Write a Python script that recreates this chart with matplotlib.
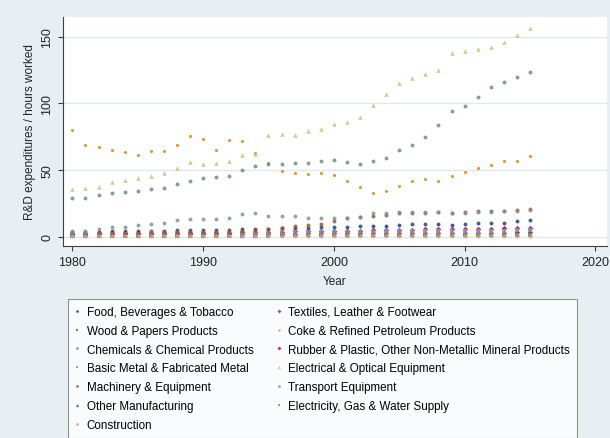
import matplotlib
matplotlib.use("Agg")
import matplotlib.pyplot as plt

plt.rcParams['font.family'] = ['Liberation Sans', 'DejaVu Sans']

years = list(range(1980, 2016))

food = [3.5, 3.6, 3.8, 4.0, 4.0, 4.2, 4.3, 4.5, 4.8, 5.0, 5.0, 5.2, 5.3, 5.6, 5.8, 6.0, 6.3, 6.5,
        6.8, 7.3, 7.3, 7.5, 7.8, 8.3, 8.3, 8.8, 9.5, 9.5, 9.5, 8.8, 9.5, 10.0, 10.0, 10.5, 11.5, 12.3]
textiles = [1.6, 1.6, 1.7, 1.7, 1.8, 1.8, 1.8, 1.9, 1.9, 2.0, 2.0, 2.0, 2.1, 2.1, 2.2, 2.2, 2.3, 2.3,
            2.4, 2.4, 2.5, 2.5, 2.6, 2.6, 2.7, 2.7, 2.8, 2.9, 2.9, 2.8, 3.0, 3.0, 3.1, 3.1, 3.2, 3.2]
wood = [1.0, 1.0, 1.0, 1.1, 1.1, 1.1, 1.1, 1.2, 1.2, 1.2, 1.2, 1.2, 1.3, 1.3, 1.3, 1.3, 1.4, 1.4,
        1.4, 1.4, 1.4, 1.5, 1.5, 1.5, 1.5, 1.5, 1.6, 1.6, 1.6, 1.5, 1.6, 1.6, 1.6, 1.7, 1.7, 1.7]
coke = [80.0, 68.8, 67.5, 65.3, 63.3, 61.3, 64.0, 64.5, 68.8, 75.3, 73.0, 65.3, 72.5, 71.8, 62.5, 55.0,
        49.0, 48.0, 46.8, 47.5, 46.0, 42.0, 37.0, 32.8, 34.3, 38.3, 41.5, 43.3, 42.0, 45.3, 48.5, 51.8,
        54.0, 56.8, 56.8, 60.3]
chemicals = [28.8, 29.3, 31.5, 32.8, 33.8, 34.5, 35.8, 36.5, 39.8, 41.8, 43.8, 45.0, 45.8, 50.3, 52.8,
             54.5, 54.8, 55.3, 55.3, 56.5, 57.3, 56.0, 54.8, 56.8, 59.3, 65.3, 69.0, 75.0, 83.8, 94.0,
             98.0, 104.5, 112.3, 116.3, 120.0, 123.3]
rubber = [2.3, 2.3, 2.4, 2.5, 2.6, 2.6, 2.7, 2.8, 2.9, 3.0, 3.0, 3.0, 3.1, 3.3, 3.4, 3.6, 3.8, 4.0,
          4.0, 4.1, 4.2, 4.3, 4.5, 4.7, 4.8, 5.0, 5.3, 5.5, 5.8, 5.5, 5.8, 6.0, 6.0, 6.5, 6.8, 6.8]
basic_metal = [2.0, 2.0, 2.1, 2.2, 2.3, 2.3, 2.4, 2.5, 2.6, 2.7, 2.7, 2.7, 2.8, 2.9, 3.0, 3.1, 3.2, 3.3,
               3.3, 3.4, 3.5, 3.6, 3.7, 3.8, 3.9, 4.0, 4.1, 4.2, 4.3, 4.2, 4.4, 4.5, 4.5, 4.6, 4.7, 4.8]
electrical = [35.8, 36.5, 37.5, 41.3, 42.5, 43.8, 45.3, 47.5, 51.3, 56.0, 54.5, 55.5, 57.0, 61.3, 62.3,
              76.3, 76.8, 76.5, 79.3, 81.0, 84.5, 86.3, 89.5, 99.0, 107.3, 115.0, 118.8, 122.3, 124.8,
              137.8, 139.5, 140.8, 142.5, 146.0, 151.3, 156.5]
machinery = [2.5, 2.5, 2.6, 2.8, 2.8, 3.0, 3.0, 3.2, 3.3, 3.5, 3.5, 3.6, 3.8, 4.2, 4.8, 5.5, 6.5, 7.8,
             8.8, 9.8, 11.8, 13.8, 15.0, 15.5, 16.5, 17.5, 18.0, 18.0, 18.3, 17.8, 18.5, 19.0, 19.5,
             19.5, 20.3, 21.0]
transport = [4.5, 4.5, 5.8, 7.0, 7.3, 8.8, 9.3, 10.5, 12.5, 13.3, 13.3, 13.0, 13.8, 16.8, 17.8, 15.5,
             15.5, 15.5, 14.3, 14.3, 14.0, 14.0, 15.0, 17.5, 17.8, 18.5, 18.8, 18.8, 18.8, 17.5, 18.0,
             18.3, 18.8, 19.0, 19.5, 20.3]
other_manuf = [1.2, 1.2, 1.3, 1.3, 1.3, 1.4, 1.4, 1.4, 1.5, 1.5, 1.5, 1.5, 1.6, 1.6, 1.6, 1.7, 1.7, 1.7,
               1.8, 1.8, 1.8, 1.9, 1.9, 1.9, 2.0, 2.0, 2.0, 2.1, 2.1, 2.0, 2.1, 2.1, 2.2, 2.2, 2.2, 2.3]
electricity = [0.7, 0.7, 0.7, 0.7, 0.8, 0.8, 0.8, 0.8, 0.8, 0.8, 0.8, 0.8, 0.8, 0.8, 0.8, 0.8, 0.9, 0.9,
               0.9, 0.9, 0.9, 0.9, 0.9, 0.9, 0.9, 0.9, 1.0, 1.0, 1.0, 1.0, 1.0, 1.0, 1.0, 1.0, 1.0, 1.0]
construction = [0.3, 0.3, 0.3, 0.3, 0.3, 0.3, 0.3, 0.3, 0.3, 0.3, 0.3, 0.3, 0.3, 0.3, 0.3, 0.4, 0.4, 0.4,
                0.4, 0.4, 0.4, 0.4, 0.4, 0.4, 0.4, 0.4, 0.4, 0.4, 0.4, 0.4, 0.4, 0.4, 0.4, 0.4, 0.4, 0.4]

# stata s2color order (legend is row-first, 2 columns)
series = [
    ("Food, Beverages & Tobacco", food, "#1a476f", "o"),
    ("Textiles, Leather & Footwear", textiles, "#90353b", "D"),
    ("Wood & Papers Products", wood, "#55752f", "s"),
    ("Coke & Refined Petroleum Products", coke, "#e37e00", "o"),
    ("Chemicals & Chemical Products", chemicals, "#6e8e84", "o"),
    ("Rubber & Plastic, Other Non-Metallic Mineral Products", rubber, "#c10534", "D"),
    ("Basic Metal & Fabricated Metal", basic_metal, "#938dd2", "s"),
    ("Electrical & Optical Equipment", electrical, "#cac27e", "^"),
    ("Machinery & Equipment", machinery, "#a0522d", "o"),
    ("Transport Equipment", transport, "#7b92a8", "o"),
    ("Other Manufacturing", other_manuf, "#2d6d66", "^"),
    ("Electricity, Gas & Water Supply", electricity, "#9c8847", "s"),
    ("Construction", construction, "#bfa19c", "o"),
]

bg = "#e8eff2"
fig = plt.figure(figsize=(6.10, 4.39), dpi=100, facecolor=bg)
ax = fig.add_axes([0.1028, 0.4374, 0.892, 0.5216])
ax.set_facecolor("white")

handles = []
for name, vals, col, mk in series:
    ms = 2.8 if mk != "^" else 3.3
    if name.startswith("Coke"):
        ms = 2.2
    h, = ax.plot(years, vals, linestyle="none", marker=mk, color=col, alpha=0.85,
                 markersize=ms, markeredgewidth=0, label=name)
    handles.append(h)

ax.set_xlim(1979.26, 2020.88)
ax.set_ylim(-7.0, 164.8)
ax.set_xticks([1980, 1990, 2000, 2010, 2020])
ax.set_yticks([0, 50, 100, 150])
ax.grid(axis="y", color="#dfe7eb", linewidth=1.0)
ax.set_axisbelow(True)

for s in ["top", "right"]:
    ax.spines[s].set_visible(False)
for s in ["left", "bottom"]:
    ax.spines[s].set_color("#404040")
    ax.spines[s].set_linewidth(0.8)

ax.tick_params(direction="out", length=3.6, width=0.8, color="#404040",
               labelsize=9, labelcolor="#222222")
ax.tick_params(axis="y", pad=3)
for lab in ax.get_yticklabels():
    lab.set_rotation(90)
    lab.set_va("center")

ax.set_xlabel("Year", fontsize=8.5, color="#222222", labelpad=5)
ax.set_ylabel("R&D expenditures / hours worked", fontsize=8.5, color="#222222", labelpad=4)

# matplotlib fills columns first, so reorder to match the row-first layout
order = [0, 2, 4, 6, 8, 10, 12, 1, 3, 5, 7, 9, 11]
leg = fig.legend([handles[i] for i in order], [series[i][0] for i in order],
                 loc="upper left", bbox_to_anchor=(68 / 610, 1 - 300 / 439),
                 borderaxespad=0, ncol=2, fontsize=8.4, frameon=True, fancybox=False,
                 handlelength=0.4, handletextpad=0.6, columnspacing=2.0,
                 labelspacing=0.58, borderpad=0.6, markerscale=0.7)
leg.get_frame().set_edgecolor("#777777")
leg.get_frame().set_linewidth(0.8)
leg.get_frame().set_facecolor("white")

fig.savefig("out.png", dpi=100, facecolor=bg)
